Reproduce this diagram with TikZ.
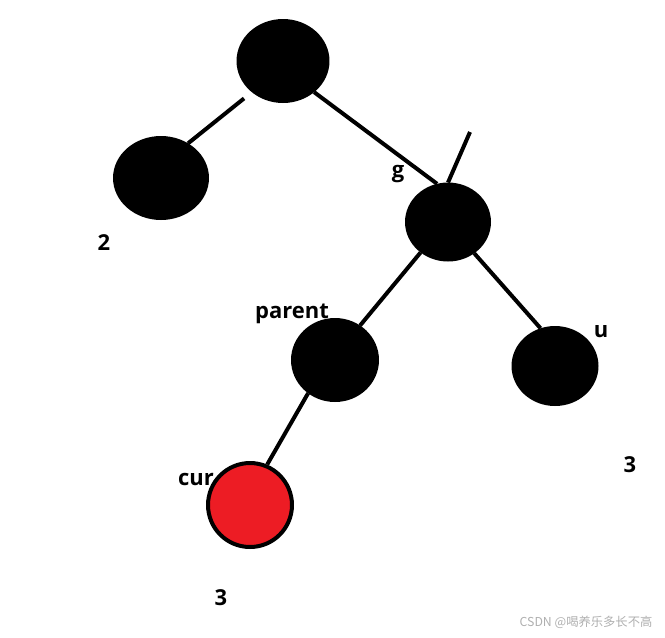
\documentclass[tikz,border=0pt]{standalone}
\usepackage{fontspec}
\setmainfont{Open Sans}
\newfontfamily\cjk{Noto Sans CJK SC}
\usetikzlibrary{shapes.geometric}
\definecolor{rossocur}{RGB}{237,28,36}
\definecolor{grigiofirma}{RGB}{175,175,175}
\begin{document}
\begin{tikzpicture}[x=0.02cm, y=-0.02cm,
    nodo/.style={ellipse, fill=black, inner sep=0pt, outer sep=0pt},
    ramo/.style={line width=0.08cm},
    etichetta/.style={font=\bfseries\fontsize{12.5}{15}\selectfont, inner sep=0pt, anchor=base}]
    \useasboundingbox (0,0) rectangle (665,637);

    % Nodi neri
    \node[nodo, minimum width=1.86cm, minimum height=1.68cm] (root) at (283,61) {};
    \node[nodo, minimum width=1.92cm, minimum height=1.68cm] (left) at (161,178) {};
    \node[nodo, minimum width=1.72cm, minimum height=1.58cm] (g) at (448,222) {};
    \node[nodo, minimum width=1.76cm, minimum height=1.68cm] (parent) at (335,360) {};
    \node[nodo, minimum width=1.74cm, minimum height=1.6cm] (u) at (555,366) {};

    % Nodo rosso
    \node[circle, draw=black, line width=0.08cm, fill=rossocur, minimum size=1.68cm, inner sep=0pt] (cur) at (250,505) {};

    % Rami
    \coordinate (cima) at (470,132);
    \draw[ramo, shorten <=0.2cm] (root.225) -- (left.52);
    \draw[ramo] (root.-45) -- (g.106);
    \draw[ramo] (g.north) -- (cima);
    \draw[ramo] (g.228) -- (parent.54);
    \draw[ramo] (g.-50) -- (u.111);
    \draw[ramo] (parent.231) -- (cur.67);

    % Etichette
    \node[etichetta] (lg) at (398,177) {g};
    \node[etichetta] (l2) at (104,250) {2};
    \node[etichetta] (lparent) at (292,318) {parent};
    \node[etichetta] (lu) at (601,337) {u};
    \node[etichetta] (l3a) at (630,472) {3};
    \node[etichetta] (lcur) at (196,485) {cur};
    \node[etichetta] (l3b) at (221,605) {3};

    % Firma
    \node[font=\cjk\fontsize{7}{8}\selectfont, text=grigiofirma, inner sep=0pt] (firma) at (586,622) {CSDN @喝养乐多长不高};
\end{tikzpicture}
\end{document}
